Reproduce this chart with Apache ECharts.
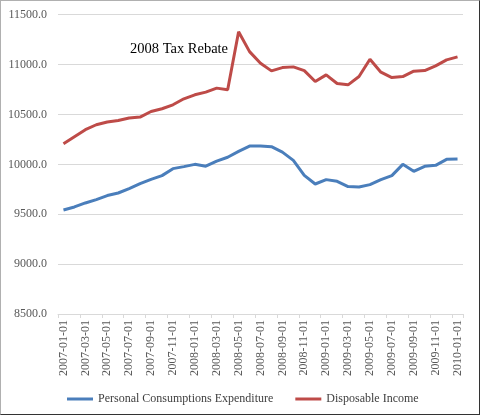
<!DOCTYPE html>
<html>
<head>
<meta charset="utf-8">
<script src="https://cdn.jsdelivr.net/npm/echarts@6/dist/echarts.min.js"></script>
<style>
html,body{margin:0;padding:0;background:#fff;}
#frame{position:absolute;left:0;top:0;width:478px;height:413px;border-top:1px solid #b0b0b0;border-left:1px solid #b0b0b0;border-right:1px solid #333;border-bottom:1px solid #333;}
#chart{position:absolute;left:0;top:0;width:480px;height:415px;}
</style>
</head>
<body>
<div id="frame"></div>
<div id="chart"></div>
<script>
var months = ['2007-01-01','2007-02-01','2007-03-01','2007-04-01','2007-05-01','2007-06-01','2007-07-01','2007-08-01','2007-09-01','2007-10-01','2007-11-01','2007-12-01',
'2008-01-01','2008-02-01','2008-03-01','2008-04-01','2008-05-01','2008-06-01','2008-07-01','2008-08-01','2008-09-01','2008-10-01','2008-11-01','2008-12-01',
'2009-01-01','2009-02-01','2009-03-01','2009-04-01','2009-05-01','2009-06-01','2009-07-01','2009-08-01','2009-09-01','2009-10-01','2009-11-01','2009-12-01',
'2010-01-01'];
var pce = [9543, 9573, 9613, 9647, 9687, 9713, 9757, 9807, 9850, 9887, 9957, 9977,
10000, 9982, 10033, 10071, 10130, 10183, 10183, 10177, 10123, 10040, 9890, 9803,
9847, 9830, 9777, 9773, 9797, 9847, 9887, 10000, 9930, 9980, 9990, 10050, 10053];
var dpi = [10207, 10277, 10347, 10397, 10424, 10440, 10464, 10474, 10530, 10557, 10597, 10657,
10697, 10724, 10764, 10747, 11330, 11130, 11014, 10937, 10970, 10977, 10940, 10830,
10897, 10810, 10797, 10880, 11054, 10924, 10870, 10880, 10934, 10940, 10987, 11047, 11077];
var seriesNames = ['Personal Consumptions Expenditure', 'Disposable Income'];
var annotation = '2008 Tax Rebate';

var font = '"Liberation Serif", "Times New Roman", serif';
var chart = echarts.init(document.getElementById('chart'));
chart.setOption({
  animation: false,
  backgroundColor: 'transparent',
  grid: {left: 58, right: 17, top: 14.7, bottom: 101, containLabel: false},
  xAxis: {
    type: 'category',
    data: months,
    boundaryGap: true,
    axisLine: {lineStyle: {color: '#d9d9d9', width: 1}},
    axisTick: {show: true, interval: 1, length: 4, lineStyle: {color: '#d9d9d9'}},
    axisLabel: {interval: 1, rotate: 90, margin: 6, color: '#595959', fontFamily: font, fontSize: 12}
  },
  yAxis: {
    type: 'value',
    min: 8500, max: 11500, interval: 500,
    axisLine: {show: false},
    axisTick: {show: false},
    splitLine: {lineStyle: {color: '#d9d9d9', width: 1}},
    axisLabel: {margin: 11, color: '#595959', fontFamily: font, fontSize: 12,
      formatter: function (v) { return v.toFixed(1); }}
  },
  legend: {
    left: 62, top: 388,
    icon: 'rect', itemWidth: 26, itemHeight: 3, itemGap: 22,
    textStyle: {color: '#404040', fontFamily: font, fontSize: 12},
    data: seriesNames
  },
  graphic: [{
    type: 'text', left: 130, top: 42,
    style: {text: annotation, fill: '#000', font: '14.5px ' + font}
  }],
  series: [
    {name: seriesNames[0], type: 'line', data: pce, symbol: 'none', smooth: false,
      lineStyle: {color: '#4a7ebb', width: 3}, itemStyle: {color: '#4a7ebb'}},
    {name: seriesNames[1], type: 'line', data: dpi, symbol: 'none', smooth: false,
      lineStyle: {color: '#be4b48', width: 3}, itemStyle: {color: '#be4b48'}}
  ]
});
</script>
</body>
</html>
